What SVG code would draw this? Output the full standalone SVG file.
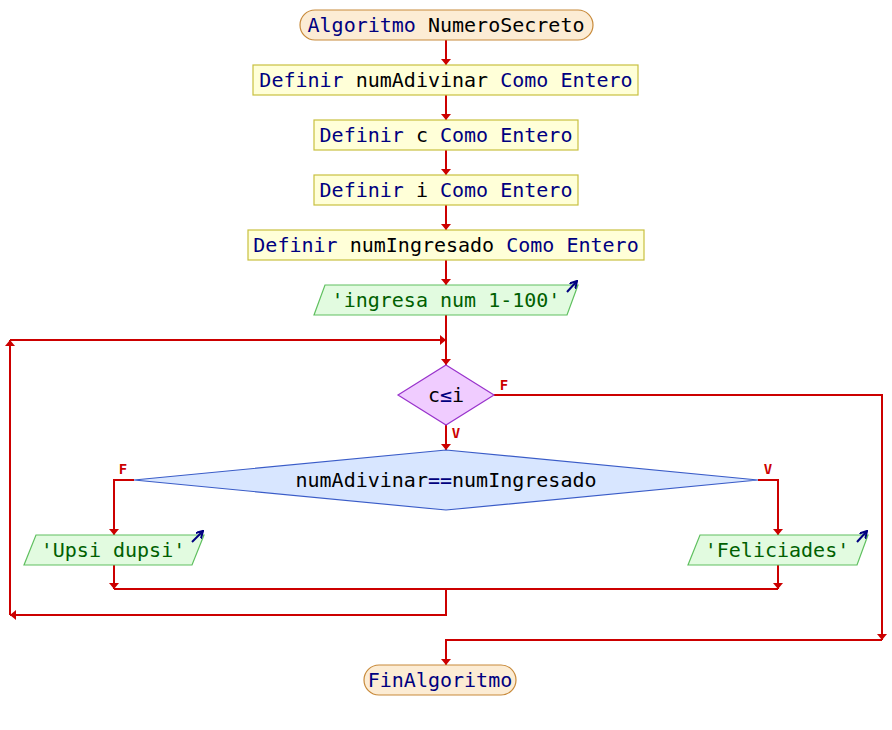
<svg xmlns="http://www.w3.org/2000/svg" width="892" height="730" viewBox="0 0 892 730">
  <style>
    text { font-family: "DejaVu Sans Mono", "Liberation Mono", monospace; font-size: 20px; text-anchor: middle; }
    .kw { fill: #000080; }
    .id { fill: #000000; }
    .out { fill: #006000; }
    .term { fill: #fcecd4; stroke: #c88a3a; stroke-width: 1.2; }
    .proc { fill: #ffffd8; stroke: #c8c040; stroke-width: 1.2; }
    .io { fill: #e2fbe0; stroke: #60c060; stroke-width: 1.2; }
    .dec1 { fill: #f0ccff; stroke: #9933cc; stroke-width: 1.2; }
    .dec2 { fill: #d8e6ff; stroke: #3a5cc8; stroke-width: 1.2; }
    .flow path { fill: none; stroke: #cc0000; stroke-width: 2; }
    .lbl { fill: #cc0000; stroke: none; font-size: 14px; font-weight: bold; }
    .outico { stroke: #000080; stroke-width: 2; fill: none; }
  </style>
  <defs>
    <marker id="ah" markerUnits="userSpaceOnUse" markerWidth="7" markerHeight="11" refX="6" refY="5" orient="auto">
      <path d="M0,0 L6,5 L0,10 z" fill="#cc0000" stroke="none"/>
    </marker>
    <marker id="oh" markerUnits="userSpaceOnUse" markerWidth="8" markerHeight="9" refX="7" refY="4" orient="auto">
      <path d="M0,0 L7,4 L0,8" fill="none" stroke="#000080" stroke-width="2"/>
    </marker>
  </defs>

  <rect width="892" height="730" fill="#ffffff"/>

  <!-- connectors -->
  <g id="connectors" class="flow">
    <path d="M446,40 V65" marker-end="url(#ah)"/>
    <path d="M446,95 V120" marker-end="url(#ah)"/>
    <path d="M446,150 V175" marker-end="url(#ah)"/>
    <path d="M446,205 V230" marker-end="url(#ah)"/>
    <path d="M446,260 V285" marker-end="url(#ah)"/>
    <path d="M446,315 V365" marker-end="url(#ah)"/>
    <!-- loop back -->
    <path d="M446,589 V615 H10" marker-end="url(#ah)"/>
    <path d="M10,615 V340" marker-end="url(#ah)"/>
    <path d="M10,340 H446" marker-end="url(#ah)"/>
    <!-- loop body -->
    <path d="M446,425 V450" marker-end="url(#ah)"/>
    <path d="M134,480 H114 V535" marker-end="url(#ah)"/>
    <path d="M758,480 H778 V535" marker-end="url(#ah)"/>
    <path d="M114,565 V589" marker-end="url(#ah)"/>
    <path d="M778,565 V589" marker-end="url(#ah)"/>
    <path d="M114,589 H778"/>
    <!-- loop exit -->
    <path d="M494,395 H882 V640" marker-end="url(#ah)"/>
    <path d="M882,640 H446 V665" marker-end="url(#ah)"/>
    <text class="lbl" x="504" y="390">F</text>
    <text class="lbl" x="456" y="438">V</text>
    <text class="lbl" x="123" y="474">F</text>
    <text class="lbl" x="768" y="474">V</text>
  </g>

  <g id="inicio">
    <rect class="term" x="300" y="10" width="293" height="30" rx="15"/>
    <text x="446" y="32"><tspan class="kw">Algoritmo</tspan> <tspan class="id">NumeroSecreto</tspan></text>
  </g>

  <g id="def-numAdivinar">
    <rect class="proc" x="253" y="65" width="385" height="30"/>
    <text x="446" y="87"><tspan class="kw">Definir</tspan> <tspan class="id">numAdivinar</tspan> <tspan class="kw">Como Entero</tspan></text>
  </g>

  <g id="def-c">
    <rect class="proc" x="314" y="120" width="264" height="30"/>
    <text x="446" y="142"><tspan class="kw">Definir</tspan> <tspan class="id">c</tspan> <tspan class="kw">Como Entero</tspan></text>
  </g>

  <g id="def-i">
    <rect class="proc" x="314" y="175" width="264" height="30"/>
    <text x="446" y="197"><tspan class="kw">Definir</tspan> <tspan class="id">i</tspan> <tspan class="kw">Como Entero</tspan></text>
  </g>

  <g id="def-numIngresado">
    <rect class="proc" x="248" y="230" width="396" height="30"/>
    <text x="446" y="252"><tspan class="kw">Definir</tspan> <tspan class="id">numIngresado</tspan> <tspan class="kw">Como Entero</tspan></text>
  </g>

  <g id="escribir-ingresa">
    <polygon class="io" points="325,285 578,285 567,315 314,315"/>
    <text class="out" x="446" y="307">'ingresa num 1-100'</text>
    <path class="outico" d="M567,292 L577,281" marker-end="url(#oh)"/>
  </g>

  <g id="mientras">
    <polygon class="dec1" points="446,365 494,395 446,425 398,395"/>
    <text x="446" y="402"><tspan class="id">c</tspan><tspan class="kw">≤</tspan><tspan class="id">i</tspan></text>
  </g>

  <g id="si">
    <polygon class="dec2" points="446,450 758,480 446,510 134,480"/>
    <text x="446" y="487"><tspan class="id">numAdivinar</tspan><tspan class="kw">==</tspan><tspan class="id">numIngresado</tspan></text>
  </g>

  <g id="escribir-upsi">
    <polygon class="io" points="36,535 204,535 192,565 24,565"/>
    <text class="out" x="113" y="557">'Upsi dupsi'</text>
    <path class="outico" d="M192,542 L203,531" marker-end="url(#oh)"/>
  </g>

  <g id="escribir-feliciades">
    <polygon class="io" points="700,535 868,535 857,565 688,565"/>
    <text class="out" x="777" y="557">'Feliciades'</text>
    <path class="outico" d="M857,542 L867,531" marker-end="url(#oh)"/>
  </g>

  <g id="fin">
    <rect class="term" x="364" y="665" width="152" height="30" rx="15"/>
    <text class="kw" x="440" y="687">FinAlgoritmo</text>
  </g>
</svg>
